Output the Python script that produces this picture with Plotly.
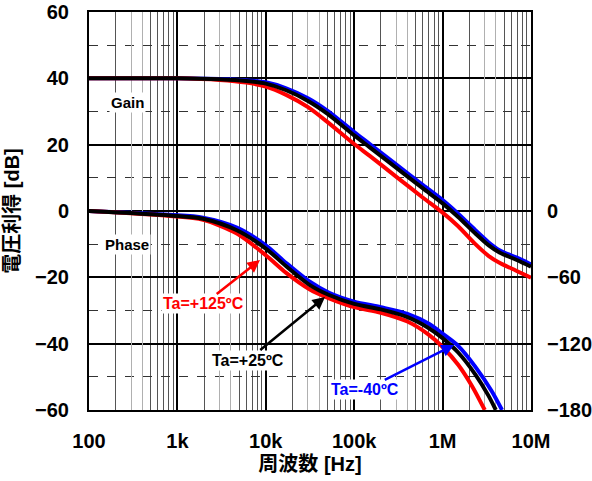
import plotly.graph_objects as go

# ---- data ----
freq_gain = [100, 1000, 3000, 6000, 10000, 17000, 30000, 50000, 100000, 150000,
             300000, 600000, 1000000, 1500000, 2350000, 3300000, 4400000, 6800000, 10000000]
gain_m40 = [40, 40, 39.8, 39.4, 38.8, 37.0, 34.0, 30.2, 23.8, 20.2,
            14.0, 7.8, 3.3, -0.8, -5.8, -9.4, -11.8, -14.0, -16.1]
gain_25 = [40, 40, 39.7, 39.2, 38.4, 36.4, 33.2, 29.3, 22.8, 19.2,
           13.0, 6.8, 2.3, -1.8, -6.8, -10.3, -12.5, -14.7, -16.8]
gain_125 = [40, 40, 39.5, 38.7, 37.5, 35.0, 31.3, 26.8, 20.2, 16.6,
            10.3, 4.0, -0.5, -4.6, -10.0, -13.5, -15.6, -18.0, -20.1]

freq_ph_m40 = [100, 822, 1950, 4700, 10000, 17000, 31500, 52000, 100000,
               200000, 400000, 700000, 1000000, 1500000, 2350000, 3600000, 4700000]
phase_m40 = [0, -3.5, -6, -15, -31, -47, -64, -74, -82,
             -87, -93, -102, -111, -122, -141, -163, -180]
freq_ph_25 = [100, 822, 1950, 4700, 10000, 17000, 31500, 52000, 100000,
              200000, 400000, 700000, 1000000, 1500000, 2350000, 3300000, 4000000]
phase_25 = [0, -4, -7, -17.4, -34, -50, -67, -76, -84,
            -89, -96, -106, -115, -128, -148, -167, -180]
freq_ph_125 = [100, 822, 1950, 4700, 10000, 17000, 31500, 52000, 100000,
               200000, 400000, 700000, 1000000, 1500000, 2140000, 3000000]
phase_125 = [0, -4.5, -8, -20.4, -40, -56, -71, -79, -87,
             -92, -100, -112, -123, -139, -158, -180]

x_tick_vals = [100, 1000, 10000, 100000, 1000000, 10000000]
x_tick_text = ["100", "1k", "10k", "100k", "1M", "10M"]
y_tick_vals = [-60, -40, -20, 0, 20, 40, 60]
y2_tick_vals = [0, -60, -120, -180]

decades = [100, 1000, 10000, 100000, 1000000]
minor_dark = [d * m for d in decades for m in (2, 5, 6, 7, 8, 9)]
minor_light = [d * m for d in decades for m in (3, 4)]

RED, BLACK, BLUE = "#ff0000", "#000000", "#0000ff"
FONT = "Liberation Sans, Arial, Noto Sans CJK JP, sans-serif"
LW = 4
SMOOTH = 0.8

fig = go.Figure()

def line(color):
    return dict(color=color, width=LW, shape="spline", smoothing=SMOOTH)

# gain traces
fig.add_trace(go.Scatter(x=freq_gain, y=gain_m40, mode="lines", line=line(BLUE), showlegend=False))
fig.add_trace(go.Scatter(x=freq_gain, y=gain_125, mode="lines", line=line(RED), showlegend=False))
fig.add_trace(go.Scatter(x=freq_gain, y=gain_25, mode="lines", line=line(BLACK), showlegend=False))
# phase traces
fig.add_trace(go.Scatter(x=freq_ph_m40, y=phase_m40, yaxis="y2", mode="lines", line=line(BLUE), showlegend=False))
fig.add_trace(go.Scatter(x=freq_ph_125, y=phase_125, yaxis="y2", mode="lines", line=line(RED), showlegend=False))
fig.add_trace(go.Scatter(x=freq_ph_25, y=phase_25, yaxis="y2", mode="lines", line=line(BLACK), showlegend=False))
# empty trace so the light-grid overlay axis is drawn
fig.add_trace(go.Scatter(x=[], y=[], xaxis="x3", showlegend=False))

tick_font = dict(family=FONT, size=20, color="black", weight="bold")

fig.update_layout(
    template="none",
    width=592, height=481,
    margin=dict(l=89, r=61, t=12, b=71),
    paper_bgcolor="white", plot_bgcolor="white",
    font=dict(family=FONT, color="black"),
    xaxis=dict(
        type="log", range=[2, 7], automargin=False,
        tickvals=x_tick_vals, ticktext=x_tick_text,
        tickfont=tick_font, ticks="", ticklabelstandoff=12,
        showgrid=True, gridcolor="black", gridwidth=1.5,
        minor=dict(tickvals=minor_dark, showgrid=True, gridcolor="#555555", gridwidth=1, ticks=""),
        showline=True, mirror=True, linecolor="black", linewidth=2,
        title=dict(text="周波数 [Hz]", font=dict(family=FONT, size=20, weight="bold"), standoff=6),
        zeroline=False,
    ),
    xaxis3=dict(
        type="log", range=[2, 7], overlaying="x", anchor="y", automargin=False,
        tickvals=minor_light, showticklabels=False, ticks="",
        showgrid=True, gridcolor="#b0b0b0", gridwidth=1, showline=False, zeroline=False,
    ),
    yaxis=dict(
        range=[-60, 60], tickvals=y_tick_vals, automargin=False,
        tickfont=tick_font, ticks="", ticklabelstandoff=14,
        showgrid=True, gridcolor="black", gridwidth=1.5,
        minor=dict(dtick=10, showgrid=True, gridcolor="#333333", gridwidth=1, griddash="dash", ticks=""),
        showline=True, mirror=True, linecolor="black", linewidth=2,
        title=dict(text="電圧利得 [dB]", font=dict(family=FONT, size=20, weight="bold"), standoff=10),
        zeroline=False,
    ),
    yaxis2=dict(
        range=[-180, 180], overlaying="y", side="right", automargin=False,
        tickvals=y2_tick_vals, tickfont=tick_font, ticks="", ticklabelstandoff=15,
        showgrid=False, zeroline=False, showline=False,
    ),
)

lab_font = dict(family=FONT, size=16, weight="bold")
annotations = [
    dict(x=2.441, y=32.6, xref="x", yref="y", text="Gain", showarrow=False,
         bgcolor="white", font=dict(family=FONT, size=15, weight="bold", color="black")),
    dict(x=2.43, y=-9.95, xref="x", yref="y", text="Phase", showarrow=False,
         bgcolor="white", font=dict(family=FONT, size=15, weight="bold", color="black")),
    dict(x=3.934, y=-14.77, xref="x", yref="y", text="Ta=+125ºC", showarrow=True,
         ax=-56, ay=44, arrowcolor=RED, arrowwidth=2.5, arrowhead=2, arrowsize=1,
         bgcolor="white", font=dict(lab_font, color=RED)),
    dict(x=4.670, y=-25.93, xref="x", yref="y", text="Ta=+25ºC", showarrow=True,
         ax=-77, ay=63, arrowcolor=BLACK, arrowwidth=2.5, arrowhead=2, arrowsize=1,
         bgcolor="white", font=dict(lab_font, color=BLACK)),
    dict(x=6.129, y=-40.4, xref="x", yref="y", text="Ta=-40ºC", showarrow=True,
         ax=-89, ay=45, arrowcolor=BLUE, arrowwidth=2.5, arrowhead=2, arrowsize=1,
         bgcolor="white", font=dict(lab_font, color=BLUE)),
]
fig.update_layout(annotations=annotations)

fig.write_html("out.html")
